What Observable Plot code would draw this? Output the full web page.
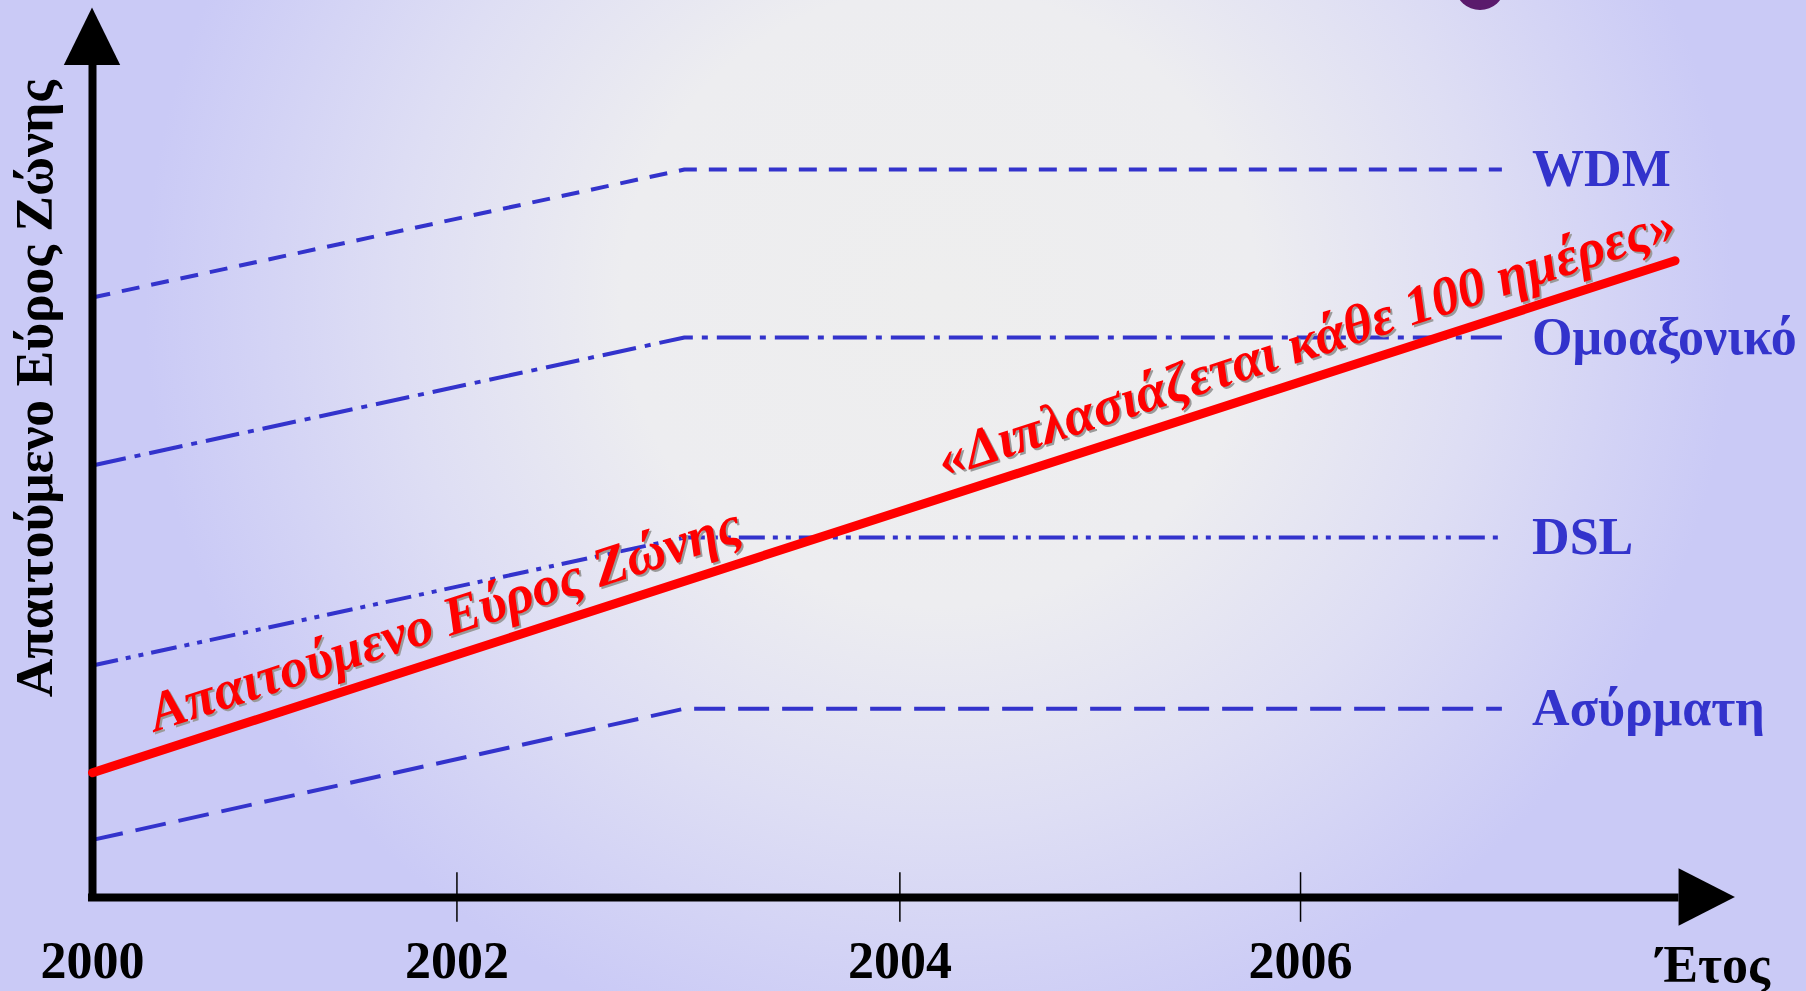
<!DOCTYPE html>
<html>
<head>
<meta charset="utf-8">
<script src="https://cdn.jsdelivr.net/npm/d3@7"></script>
<script src="https://cdn.jsdelivr.net/npm/@observablehq/plot@0.6"></script>
<style>
  html, body { margin: 0; padding: 0; width: 1806px; height: 991px; overflow: hidden; }
  body {
    background: radial-gradient(ellipse 44% 78% at 52% 30%, #eeeeee 0%, #ededf0 40%, #dedef4 68%, #cacaf6 100%);
    position: relative;
  }
  #blob { position: absolute; left: 1456px; top: -34px; width: 48px; height: 44px; border-radius: 50%; background: #5a1a6c; }
  #chart { position: absolute; left: 0; top: 0; }
</style>
</head>
<body>
<div id="blob"></div>
<div id="chart"></div>
<script>
// ---- data ----
const techX = [2000, 2002.94, 2007.0];          // start, saturation year, end of projection
const wdm = [7.5, 9.1, 9.1];
const omoaxoniko = [5.4, 7.0, 7.0];
const dsl = [2.9, 4.5, 4.5];
const asyrmati = [0.72, 2.36, 2.36];
const techNames = ["WDM", "Ομοαξονικό", "DSL", "Ασύρματη"];
const techDash = ["18,12", "34,9,6,9", "26,8,5,8,5,8", "31,13"];

const demandX = [2000, 2007.86];
const demand = [1.56, 7.96];

const tickYears = [2000, 2001.81, 2004.01, 2006.0];
const tickLabels = ["2000", "2002", "2004", "2006"];

const axisTop = 10.4;      // top of y axis (arrow base)
const axisRight = 2007.88; // end of x axis (arrow base)

const redLabels = ["Απαιτούμενο Εύρος Ζώνης", "«Διπλασιάζεται κάθε 100 ημέρες»"];
const redLabelX = [2001.75, 2006.03];
const redLabelY = [3.48, 6.95];

// ---- build tables ----
const techSeries = [wdm, omoaxoniko, dsl, asyrmati];
const techRows = techSeries.flatMap((vals, i) => vals.map((v, j) => ({name: techNames[i], x: techX[j], y: v})));
const demandRows = demandX.map((x, i) => ({x, y: demand[i]}));
const labelRows = techSeries.map((vals, i) => ({name: techNames[i], y: vals[vals.length - 1]}));
const tickRows = tickYears.map((x, i) => ({x, label: tickLabels[i]}));
const redRows = redLabels.map((t, i) => ({t, x: redLabelX[i], y: redLabelY[i]}));

// arrowheads (filled triangles)
const yHead = [{y: axisTop, x1: 2000 - 0.14, x2: 2000 + 0.14}, {y: axisTop + 0.72, x1: 2000, x2: 2000}];
const xHead = [{x: axisRight, y1: -0.36, y2: 0.36}, {x: axisRight + 0.28, y1: 0, y2: 0}];

const serif = "'Liberation Serif', 'Times New Roman', serif";
const blue = "#3333cc";

const marks = [
  // technology capacity lines
  ...techNames.map((n, i) => Plot.line(techRows.filter(d => d.name === n), {
    x: "x", y: "y", stroke: blue, strokeWidth: 4, strokeDasharray: techDash[i], strokeLinecap: "butt"
  })),
  Plot.text(labelRows, {x: 2007.15, y: "y", text: "name", textAnchor: "start", fill: blue,
    fontSize: 52, fontWeight: "bold", fontFamily: serif}),
  // axes
  Plot.ruleX([2000], {y1: 0, y2: axisTop, stroke: "black", strokeWidth: 8}),
  Plot.ruleY([0], {x1: 2000 - 0.02, x2: axisRight, stroke: "black", strokeWidth: 8}),
  Plot.areaX(yHead, {y: "y", x1: "x1", x2: "x2", fill: "black"}),
  Plot.areaY(xHead, {x: "x", y1: "y1", y2: "y2", fill: "black"}),
  Plot.ruleX(tickYears.slice(1), {y1: -0.31, y2: 0.31, stroke: "black", strokeWidth: 1.5}),
  Plot.text(tickRows, {x: "x", y: -1.0, text: "label", lineAnchor: "bottom", fill: "black",
    fontSize: 52, fontWeight: "bold", fontFamily: serif}),
  Plot.text(["Έτος"], {x: 2008.05, y: -1.06, text: d => d, lineAnchor: "bottom", fill: "black",
    fontSize: 52, fontWeight: "bold", fontFamily: serif}),
  Plot.text(["Απαιτούμενο Εύρος Ζώνης"], {x: 1999.715, y: 6.36, text: d => d, rotate: -90, fill: "black",
    fontSize: 53.5, fontWeight: "bold", fontFamily: serif}),
  // demand line
  Plot.line(demandRows, {x: "x", y: "y", stroke: "#ff0000", strokeWidth: 9}),
  // red labels with shadow
  Plot.text(redRows, {x: "x", y: "y", text: "t", rotate: -18, dx: 2, dy: 2, fill: "#9a9a9a",
    fontSize: 55, fontWeight: "bold", fontStyle: "italic", fontFamily: serif}),
  Plot.text(redRows, {x: "x", y: "y", text: "t", rotate: -18, fill: "#ff0000",
    fontSize: 55, fontWeight: "bold", fontStyle: "italic", fontFamily: serif})
];

const chart = Plot.plot({
  width: 1806,
  height: 991,
  margin: 0,
  x: {domain: [1999.543, 2008.513], axis: null},
  y: {domain: [-1.175, 11.2125], axis: null},
  style: {background: "transparent", overflow: "visible"},
  marks
});
document.getElementById("chart").appendChild(chart);
</script>
</body>
</html>
